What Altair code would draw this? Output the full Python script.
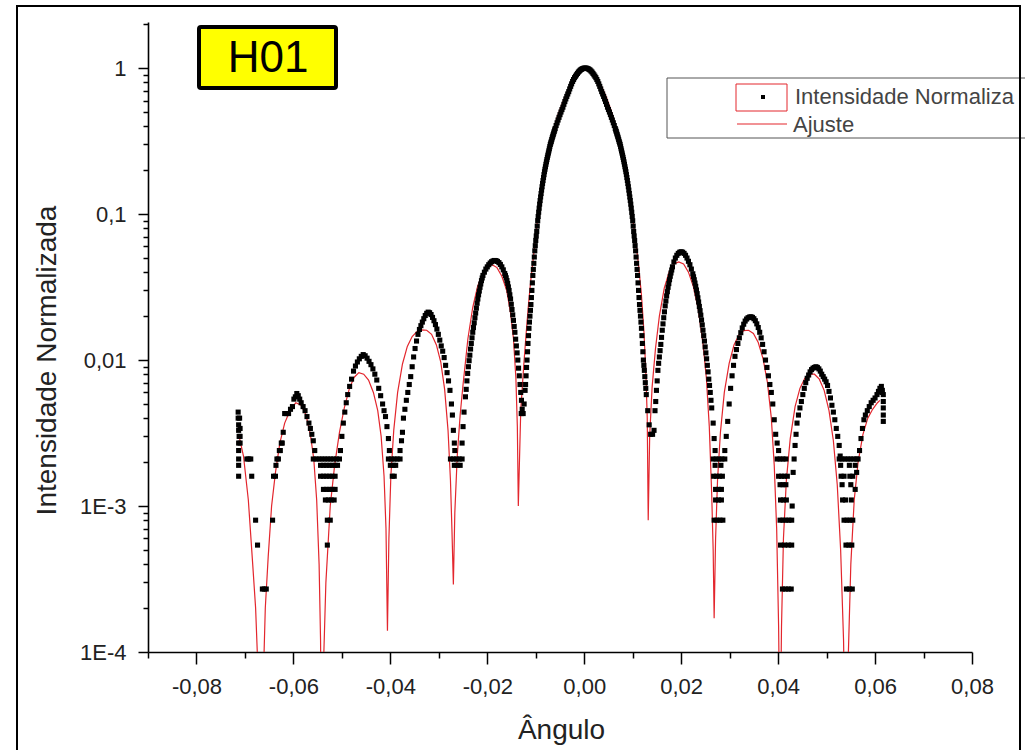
import altair as alt
import pandas as pd

# ---------------- data ----------------
# Ajuste (red fit line): (angle, normalized intensity)
ajuste_esq = [
    (-0.0712, 0.0030), (-0.0703, 0.0022), (-0.0693, 0.0011), (-0.0684, 0.0004), (-0.0678, 0.0002),
    (-0.0672, 0.00006), (-0.0668, 0.00001), (-0.0663, 0.00005), (-0.0658, 0.0002), (-0.0652, 0.00045),
    (-0.0645, 0.0010), (-0.0637, 0.0017), (-0.0628, 0.0027), (-0.0618, 0.0037), (-0.0606, 0.0046),
    (-0.0595, 0.0051), (-0.0584, 0.0049), (-0.0574, 0.0042), (-0.0565, 0.0031), (-0.0558, 0.0021),
    (-0.0552, 0.0011), (-0.0547, 0.0004), (-0.0544, 0.00012), (-0.0541, 0.00001),
    (-0.0538, 0.00008), (-0.0533, 0.0003), (-0.0524, 0.0010), (-0.0515, 0.0019), (-0.0505, 0.0032),
    (-0.0495, 0.0047), (-0.0485, 0.0063), (-0.0475, 0.0076), (-0.0465, 0.0082), (-0.0455, 0.0080),
    (-0.0445, 0.0073), (-0.0435, 0.0060), (-0.0426, 0.0045), (-0.0419, 0.0030), (-0.0413, 0.0016),
    (-0.0409, 0.0007), (-0.0406, 0.00014),
    (-0.0403, 0.0006), (-0.0399, 0.0016), (-0.0393, 0.0033), (-0.0385, 0.0060), (-0.0375, 0.0094),
    (-0.0365, 0.0124), (-0.0355, 0.0145), (-0.0345, 0.0157), (-0.0335, 0.0161), (-0.0325, 0.0160),
    (-0.0315, 0.0150), (-0.0305, 0.0127), (-0.0296, 0.0097), (-0.0288, 0.0063), (-0.0281, 0.0033),
    (-0.0276, 0.0015), (-0.0273, 0.0007), (-0.0270, 0.00029),
    (-0.0267, 0.0009), (-0.0262, 0.0022), (-0.0256, 0.0042), (-0.0250, 0.0068), (-0.0240, 0.0140),
    (-0.0230, 0.0230), (-0.0220, 0.0320), (-0.0210, 0.0390), (-0.0200, 0.0435), (-0.0190, 0.0450),
    (-0.0180, 0.0430), (-0.0170, 0.0375), (-0.0160, 0.0300), (-0.0152, 0.0210), (-0.0146, 0.0140),
    (-0.0141, 0.0075), (-0.0138, 0.0035), (-0.0136, 0.0010),
]
ajuste_centro = [
    (-0.0131, 0.0045), (-0.0125, 0.0090), (-0.0120, 0.0150), (-0.0115, 0.024), (-0.0110, 0.036),
    (-0.0105, 0.050), (-0.0100, 0.072), (-0.0095, 0.100), (-0.0085, 0.180), (-0.0075, 0.265),
    (-0.0065, 0.365), (-0.0055, 0.470), (-0.0045, 0.575), (-0.0035, 0.690), (-0.0025, 0.800),
    (-0.0015, 0.900), (-0.0005, 0.970), (0.0005, 0.990), (0.0015, 0.950), (0.0025, 0.870),
    (0.0035, 0.760), (0.0045, 0.640), (0.0055, 0.520), (0.0065, 0.400), (0.0075, 0.290),
    (0.0085, 0.195), (0.0095, 0.125), (0.0105, 0.070), (0.0112, 0.045), (0.0118, 0.028),
    (0.0123, 0.016), (0.0127, 0.0085), (0.0130, 0.0040), (0.0132, 0.0008),
]
ajuste_dir = [
    (0.0135, 0.0030), (0.0140, 0.0065), (0.0147, 0.0120), (0.0155, 0.0200), (0.0165, 0.0310),
    (0.0175, 0.0400), (0.0185, 0.0455), (0.0195, 0.0470), (0.0205, 0.0455), (0.0215, 0.0400),
    (0.0225, 0.0320), (0.0235, 0.0225), (0.0245, 0.0130), (0.0252, 0.0075), (0.0258, 0.0035),
    (0.0263, 0.0012), (0.0266, 0.0005), (0.0268, 0.00017),
    (0.0271, 0.0006), (0.0275, 0.0015), (0.0281, 0.0032), (0.0289, 0.0060), (0.0299, 0.0095),
    (0.0309, 0.0127), (0.0319, 0.0148), (0.0329, 0.0159), (0.0339, 0.0160), (0.0349, 0.0152),
    (0.0359, 0.0132), (0.0369, 0.0102), (0.0378, 0.0070), (0.0386, 0.0040), (0.0392, 0.0019),
    (0.0397, 0.0007), (0.0401, 0.00015), (0.0404, 0.00002),
    (0.0407, 0.00015), (0.0411, 0.0006), (0.0417, 0.0015), (0.0425, 0.0029), (0.0435, 0.0048),
    (0.0445, 0.0064), (0.0455, 0.0075), (0.0465, 0.0080), (0.0475, 0.0080), (0.0485, 0.0074),
    (0.0495, 0.0062), (0.0505, 0.0045), (0.0514, 0.0028), (0.0522, 0.0014), (0.0529, 0.0005),
    (0.0535, 0.00012), (0.0540, 0.00001),
    (0.0545, 0.0001), (0.0550, 0.0004), (0.0557, 0.0011), (0.0565, 0.0020), (0.0575, 0.0031),
    (0.0585, 0.0040), (0.0595, 0.0046), (0.0605, 0.0051), (0.0610, 0.0053),
]

# Intensidade Normalizada (black measured points)
exp_borda = [
    (-0.0714, 0.0044), (-0.0714, 0.0040), (-0.0713, 0.0036), (-0.0713, 0.0033), (-0.0712, 0.0030),
    (-0.0711, 0.0040), (-0.0710, 0.0034), (-0.0710, 0.0030), (-0.0713, 0.0027), (-0.0710, 0.0027),
    (-0.0713, 0.0024), (-0.0713, 0.0021), (-0.0713, 0.0019), (-0.0713, 0.0016), (-0.0696, 0.0021),
    (-0.0692, 0.0021), (-0.0688, 0.0021), (-0.0686, 0.0016), (-0.0678, 0.0008), (-0.0674, 0.00054),
    (-0.0664, 0.00027), (-0.0660, 0.00027), (-0.0656, 0.00027), (-0.0643, 0.0008), (-0.0641, 0.0016),
    (-0.0637, 0.0016), (-0.0636, 0.0019), (-0.0634, 0.0021), (-0.0631, 0.0021), (-0.0629, 0.0024),
    (-0.0627, 0.0024), (-0.0625, 0.0027), (-0.0623, 0.0027), (-0.0621, 0.0032), (-0.0618, 0.0043),
    (-0.0614, 0.0043), (-0.0610, 0.0043), (-0.0606, 0.0046), (-0.0602, 0.0048), (-0.0599, 0.0054),
    (-0.0596, 0.0056), (-0.0593, 0.0059), (-0.0590, 0.0057), (-0.0587, 0.0054), (-0.0584, 0.0051),
    (-0.0580, 0.0048), (-0.0576, 0.0045), (-0.0572, 0.0041), (-0.0568, 0.0037), (-0.0565, 0.0034),
    (-0.0562, 0.0031), (-0.0559, 0.0028), (-0.0556, 0.0024),
]
exp_vale_054 = [
    (-0.0559, 0.0021), (-0.0553, 0.0021), (-0.0547, 0.0021), (-0.0541, 0.0021), (-0.0535, 0.0021),
    (-0.0529, 0.0021), (-0.0523, 0.0021), (-0.0517, 0.0021), (-0.0511, 0.0021), (-0.0505, 0.0021),
    (-0.0544, 0.0019), (-0.0538, 0.0019), (-0.0532, 0.0019), (-0.0526, 0.0019), (-0.0520, 0.0019),
    (-0.0514, 0.0019), (-0.0509, 0.0019),
    (-0.0544, 0.0016), (-0.0538, 0.0016), (-0.0532, 0.0016), (-0.0526, 0.0016), (-0.0520, 0.0016),
    (-0.0514, 0.0016),
    (-0.0538, 0.0013), (-0.0532, 0.0013), (-0.0526, 0.0013), (-0.0520, 0.0013), (-0.0514, 0.0013),
    (-0.0534, 0.0011), (-0.0528, 0.0011), (-0.0522, 0.0011), (-0.0516, 0.0011),
    (-0.0530, 0.0008), (-0.0524, 0.0008), (-0.0530, 0.00054),
]
exp_lobo_047 = [
    (-0.0503, 0.0024), (-0.0500, 0.0030), (-0.0497, 0.0037), (-0.0494, 0.0044), (-0.0491, 0.0051),
    (-0.0488, 0.0058), (-0.0484, 0.0066), (-0.0480, 0.0074), (-0.0476, 0.0084), (-0.0472, 0.0091),
    (-0.0468, 0.0097), (-0.0464, 0.0102), (-0.0460, 0.0106), (-0.0456, 0.0109), (-0.0452, 0.0107),
    (-0.0448, 0.0103), (-0.0444, 0.0098), (-0.0440, 0.0093), (-0.0436, 0.0087), (-0.0432, 0.0080),
    (-0.0428, 0.0073), (-0.0424, 0.0064), (-0.0420, 0.0057), (-0.0416, 0.0050), (-0.0413, 0.0045),
    (-0.0410, 0.0041), (-0.0407, 0.0035), (-0.0404, 0.0029), (-0.0402, 0.0024),
    (-0.0404, 0.0021), (-0.0398, 0.0021), (-0.0392, 0.0021), (-0.0386, 0.0021), (-0.0380, 0.0021),
    (-0.0400, 0.0019), (-0.0394, 0.0019), (-0.0389, 0.0019), (-0.0396, 0.0016), (-0.0392, 0.0016),
]
exp_lobo_033 = [
    (-0.0380, 0.0024), (-0.0377, 0.0028), (-0.0375, 0.0032), (-0.0373, 0.0040), (-0.0370, 0.0046),
    (-0.0367, 0.0053), (-0.0364, 0.0060), (-0.0361, 0.0068), (-0.0358, 0.0077), (-0.0355, 0.0090),
    (-0.0352, 0.0105), (-0.0349, 0.0120), (-0.0346, 0.0135), (-0.0343, 0.0150), (-0.0340, 0.0162),
    (-0.0337, 0.0172), (-0.0334, 0.0182), (-0.0331, 0.0192), (-0.0328, 0.0202), (-0.0325, 0.0209),
    (-0.0322, 0.0213), (-0.0319, 0.0211), (-0.0316, 0.0205), (-0.0313, 0.0196), (-0.0310, 0.0186),
    (-0.0307, 0.0175), (-0.0304, 0.0163), (-0.0301, 0.0150), (-0.0298, 0.0137), (-0.0295, 0.0125),
    (-0.0292, 0.0115), (-0.0289, 0.0104), (-0.0286, 0.0092), (-0.0283, 0.0082), (-0.0280, 0.0072),
    (-0.0277, 0.0062), (-0.0274, 0.0050), (-0.0272, 0.0042), (-0.0270, 0.0033), (-0.0268, 0.0027),
    (-0.0267, 0.0024),
    (-0.0276, 0.0021), (-0.0270, 0.0021), (-0.0264, 0.0021), (-0.0258, 0.0021), (-0.0252, 0.0021),
    (-0.0268, 0.0019), (-0.0262, 0.0019), (-0.0256, 0.0019),
]
exp_lobo_019 = [
    (-0.0252, 0.0027), (-0.0250, 0.0035), (-0.0248, 0.0044), (-0.0245, 0.0056), (-0.0242, 0.0072),
    (-0.0239, 0.0090), (-0.0236, 0.0108), (-0.0233, 0.0130), (-0.0230, 0.0155), (-0.0227, 0.0180),
    (-0.0224, 0.0210), (-0.0221, 0.0245), (-0.0218, 0.0280), (-0.0215, 0.0315), (-0.0212, 0.0350),
    (-0.0209, 0.0380), (-0.0206, 0.0400), (-0.0203, 0.0420), (-0.0200, 0.0435), (-0.0197, 0.0450),
    (-0.0194, 0.0462), (-0.0191, 0.0472), (-0.0188, 0.0478), (-0.0185, 0.0481), (-0.0182, 0.0480),
    (-0.0179, 0.0474), (-0.0176, 0.0465), (-0.0173, 0.0452), (-0.0170, 0.0435), (-0.0167, 0.0415),
    (-0.0164, 0.0392), (-0.0161, 0.0366), (-0.0158, 0.0335), (-0.0155, 0.0300), (-0.0152, 0.0262),
    (-0.0149, 0.0222), (-0.0146, 0.0187), (-0.0143, 0.0155), (-0.0140, 0.0125), (-0.0137, 0.0100),
    (-0.0134, 0.0078), (-0.0131, 0.0060), (-0.0128, 0.0046), (-0.0130, 0.0043), (-0.0126, 0.0043),
]
exp_central = [
    (-0.0124, 0.0050), (-0.0121, 0.0068), (-0.0118, 0.0100), (-0.0116, 0.0130), (-0.0114, 0.0165),
    (-0.0112, 0.0200), (-0.0110, 0.0240), (-0.0108, 0.0300), (-0.0106, 0.0380), (-0.0104, 0.0460),
    (-0.0102, 0.0560), (-0.0100, 0.0660), (-0.0098, 0.0760), (-0.0096, 0.0900), (-0.0094, 0.1030),
    (-0.0092, 0.1170), (-0.0090, 0.1310), (-0.0088, 0.1460), (-0.0086, 0.1620), (-0.0084, 0.1780),
    (-0.0082, 0.1950), (-0.0080, 0.2110), (-0.0078, 0.2280), (-0.0076, 0.2450), (-0.0074, 0.2620),
    (-0.0072, 0.2800), (-0.0070, 0.3000), (-0.0068, 0.3150), (-0.0066, 0.3330), (-0.0064, 0.3500),
    (-0.0062, 0.3680), (-0.0060, 0.3860), (-0.0058, 0.4040), (-0.0056, 0.4220), (-0.0054, 0.4410),
    (-0.0052, 0.4600), (-0.0050, 0.4800), (-0.0048, 0.5000), (-0.0046, 0.5200), (-0.0044, 0.5400),
    (-0.0042, 0.5650), (-0.0040, 0.5900), (-0.0038, 0.6150), (-0.0036, 0.6400), (-0.0034, 0.6650),
    (-0.0032, 0.6900), (-0.0030, 0.7200), (-0.0028, 0.7500), (-0.0026, 0.7800), (-0.0024, 0.8100),
    (-0.0022, 0.8350), (-0.0020, 0.8600), (-0.0018, 0.8800), (-0.0016, 0.9000), (-0.0014, 0.9200),
    (-0.0012, 0.9400), (-0.0010, 0.9550), (-0.0008, 0.9700), (-0.0006, 0.9800), (-0.0004, 0.9900),
    (-0.0002, 0.9950), (0.0000, 1.0000), (0.0002, 1.0000), (0.0004, 1.0000), (0.0006, 0.9950),
    (0.0008, 0.9900), (0.0010, 0.9800), (0.0012, 0.9700), (0.0014, 0.9550), (0.0016, 0.9400),
    (0.0018, 0.9200), (0.0020, 0.9000), (0.0022, 0.8800), (0.0024, 0.8600), (0.0026, 0.8350),
    (0.0028, 0.8100), (0.0030, 0.7800), (0.0032, 0.7500), (0.0034, 0.7200), (0.0036, 0.6900),
    (0.0038, 0.6650), (0.0040, 0.6400), (0.0042, 0.6150), (0.0044, 0.5900), (0.0046, 0.5650),
    (0.0048, 0.5400), (0.0050, 0.5200), (0.0052, 0.5000), (0.0054, 0.4800), (0.0056, 0.4600),
    (0.0058, 0.4410), (0.0060, 0.4220), (0.0062, 0.4040), (0.0064, 0.3860), (0.0066, 0.3680),
    (0.0068, 0.3500), (0.0070, 0.3330), (0.0072, 0.3150), (0.0074, 0.3000), (0.0076, 0.2800),
    (0.0078, 0.2620), (0.0080, 0.2450), (0.0082, 0.2280), (0.0084, 0.2110), (0.0086, 0.1950),
    (0.0088, 0.1780), (0.0090, 0.1620), (0.0092, 0.1460), (0.0094, 0.1310), (0.0096, 0.1170),
    (0.0098, 0.1030), (0.0100, 0.0900), (0.0102, 0.0760), (0.0104, 0.0660), (0.0106, 0.0560),
    (0.0108, 0.0460), (0.0110, 0.0380), (0.0112, 0.0300), (0.0114, 0.0240), (0.0116, 0.0200),
    (0.0118, 0.0165), (0.0120, 0.0130), (0.0122, 0.0100), (0.0124, 0.0085), (0.0126, 0.0070),
    (0.0128, 0.0058), (0.0131, 0.0045), (0.0134, 0.0036), (0.0137, 0.0031), (0.0141, 0.0031),
    (0.0144, 0.0033),
]
# extra readings along the steep, densely sampled flanks
exp_flancos_centro = [
    (-0.0122, 0.0062), (-0.0120, 0.0078), (-0.0119, 0.0089), (-0.0117, 0.0114), (-0.0115, 0.0147),
    (-0.0113, 0.0182), (-0.0111, 0.0219), (-0.0109, 0.0268), (-0.0107, 0.0338), (-0.0105, 0.0418),
    (-0.0103, 0.0508), (-0.0101, 0.0608), (-0.0099, 0.0708), (-0.0097, 0.0827), (-0.0095, 0.0963),
    (-0.0093, 0.1098), (-0.0091, 0.1238), (-0.0089, 0.1383), (-0.0087, 0.1539), (-0.0085, 0.1698),
    (-0.0083, 0.1863), (-0.0081, 0.2029), (-0.0079, 0.2194), (-0.0077, 0.2363), (-0.0075, 0.2534),
    (-0.0073, 0.2709), (-0.0071, 0.2898), (-0.0069, 0.3074), (-0.0067, 0.3239), (-0.0065, 0.3414),
    (-0.0063, 0.3589), (-0.0061, 0.3769),
    (0.0065, 0.3769), (0.0067, 0.3589), (0.0069, 0.3414), (0.0071, 0.3239), (0.0073, 0.3074),
    (0.0075, 0.2898), (0.0077, 0.2709), (0.0079, 0.2534), (0.0081, 0.2363), (0.0083, 0.2194),
    (0.0085, 0.2029), (0.0087, 0.1863), (0.0089, 0.1698), (0.0091, 0.1539), (0.0093, 0.1383),
    (0.0095, 0.1238), (0.0097, 0.1098), (0.0099, 0.0963), (0.0101, 0.0827), (0.0103, 0.0708),
    (0.0105, 0.0608), (0.0107, 0.0508), (0.0109, 0.0418), (0.0111, 0.0338), (0.0113, 0.0268),
    (0.0115, 0.0219), (0.0117, 0.0182), (0.0119, 0.0147), (0.0121, 0.0114), (0.0123, 0.0092),
    (0.0125, 0.0077), (0.0127, 0.0064),
]
exp_flancos_lobos = [
    (-0.02435, 0.0063), (-0.02405, 0.0081), (-0.02375, 0.0099), (-0.02345, 0.0119), (-0.02315, 0.0142),
    (-0.02285, 0.0167), (-0.02255, 0.0195), (-0.02225, 0.0227), (-0.02195, 0.0262), (-0.02165, 0.0297),
    (-0.02135, 0.0332), (-0.02105, 0.0365),
    (-0.01625, 0.0379), (-0.01595, 0.0350), (-0.01565, 0.0317), (-0.01535, 0.0280), (-0.01505, 0.0241),
    (-0.01475, 0.0204), (-0.01445, 0.0170), (-0.01415, 0.0139), (-0.01385, 0.0112), (-0.01355, 0.0088),
    (-0.01325, 0.0068), (-0.01295, 0.0053),
    (0.01475, 0.0052), (0.01505, 0.0072), (0.01535, 0.0095), (0.01565, 0.0116), (0.01595, 0.0143),
    (0.01625, 0.0177), (0.01655, 0.0214), (0.01685, 0.0254), (0.01715, 0.0294), (0.01745, 0.0334),
    (0.01775, 0.0375), (0.01805, 0.0414),
    (0.02255, 0.0372), (0.02285, 0.0337), (0.02315, 0.0302), (0.02345, 0.0267), (0.02375, 0.0233),
    (0.02405, 0.0203), (0.02435, 0.0174), (0.02465, 0.0147), (0.02495, 0.0123), (0.02525, 0.0102),
    (0.02555, 0.0083), (0.02585, 0.0067), (0.02615, 0.0053),
]
exp_lobo_020 = [
    (0.0146, 0.0045), (0.0149, 0.0062), (0.0152, 0.0085), (0.0155, 0.0105), (0.0158, 0.0128),
    (0.0161, 0.0160), (0.0164, 0.0195), (0.0167, 0.0235), (0.0170, 0.0275), (0.0173, 0.0315),
    (0.0176, 0.0355), (0.0179, 0.0395), (0.0182, 0.0435), (0.0185, 0.0470), (0.0188, 0.0500),
    (0.0191, 0.0522), (0.0194, 0.0538), (0.0197, 0.0548), (0.0200, 0.0552), (0.0203, 0.0548),
    (0.0206, 0.0538), (0.0209, 0.0522), (0.0212, 0.0500), (0.0215, 0.0475), (0.0218, 0.0450),
    (0.0221, 0.0420), (0.0224, 0.0390), (0.0227, 0.0355), (0.0230, 0.0320), (0.0233, 0.0285),
    (0.0236, 0.0250), (0.0239, 0.0218), (0.0242, 0.0188), (0.0245, 0.0160), (0.0248, 0.0135),
    (0.0251, 0.0112), (0.0254, 0.0092), (0.0257, 0.0074), (0.0260, 0.0060), (0.0263, 0.0047),
    (0.0266, 0.0037), (0.0268, 0.0029), (0.0270, 0.0024),
    (0.0266, 0.0021), (0.0272, 0.0021), (0.0278, 0.0021), (0.0284, 0.0021), (0.0290, 0.0021),
    (0.0270, 0.0019), (0.0282, 0.0019), (0.0267, 0.0016), (0.0273, 0.0016), (0.0279, 0.0016),
    (0.0285, 0.0016), (0.0271, 0.0013), (0.0277, 0.0013), (0.0283, 0.0013), (0.0271, 0.0011),
    (0.0277, 0.0011), (0.0283, 0.0011), (0.0268, 0.0008), (0.0274, 0.0008), (0.0280, 0.0008),
    (0.0286, 0.0008),
]
exp_lobo_034 = [
    (0.0290, 0.0024), (0.0293, 0.0030), (0.0296, 0.0038), (0.0299, 0.0050), (0.0302, 0.0064),
    (0.0305, 0.0078), (0.0308, 0.0092), (0.0311, 0.0106), (0.0314, 0.0118), (0.0317, 0.0130),
    (0.0320, 0.0142), (0.0323, 0.0154), (0.0326, 0.0166), (0.0329, 0.0176), (0.0332, 0.0185),
    (0.0335, 0.0191), (0.0338, 0.0195), (0.0341, 0.0197), (0.0344, 0.0198), (0.0347, 0.0196),
    (0.0350, 0.0192), (0.0353, 0.0186), (0.0356, 0.0177), (0.0359, 0.0167), (0.0362, 0.0155),
    (0.0365, 0.0142), (0.0368, 0.0128), (0.0371, 0.0114), (0.0374, 0.0100), (0.0377, 0.0089),
    (0.0380, 0.0078), (0.0383, 0.0068), (0.0386, 0.0060), (0.0389, 0.0050), (0.0392, 0.0039),
    (0.0395, 0.0031), (0.0398, 0.0027), (0.0401, 0.0024),
    (0.0398, 0.0021), (0.0404, 0.0021), (0.0410, 0.0021), (0.0416, 0.0021), (0.0401, 0.0016),
    (0.0407, 0.0016), (0.0413, 0.0016), (0.0419, 0.0016), (0.0404, 0.0014), (0.0410, 0.0014),
    (0.0416, 0.0014), (0.0405, 0.0011), (0.0411, 0.0011), (0.0417, 0.0011), (0.0404, 0.0008),
    (0.0410, 0.0008), (0.0416, 0.0008), (0.0422, 0.0008), (0.0428, 0.0008), (0.0405, 0.00054),
    (0.0413, 0.00054), (0.0421, 0.00054), (0.0428, 0.00054), (0.0409, 0.00027), (0.0415, 0.00027),
    (0.0421, 0.00027), (0.0427, 0.00027),
]
exp_lobo_048 = [
    (0.0429, 0.0010), (0.0431, 0.0017), (0.0433, 0.0021), (0.0435, 0.0026), (0.0437, 0.0031),
    (0.0439, 0.0037), (0.0442, 0.0042), (0.0445, 0.0047), (0.0448, 0.0052), (0.0451, 0.0058),
    (0.0454, 0.0064), (0.0457, 0.0070), (0.0460, 0.0075), (0.0463, 0.0079), (0.0466, 0.0083),
    (0.0469, 0.0086), (0.0472, 0.0088), (0.0475, 0.0089), (0.0478, 0.0090), (0.0481, 0.0089),
    (0.0484, 0.0087), (0.0487, 0.0084), (0.0490, 0.0080), (0.0493, 0.0077), (0.0496, 0.0074),
    (0.0499, 0.0071), (0.0502, 0.0067), (0.0505, 0.0061), (0.0508, 0.0055), (0.0511, 0.0049),
    (0.0514, 0.0044), (0.0517, 0.0039), (0.0520, 0.0034), (0.0523, 0.0030), (0.0526, 0.0026),
    (0.0528, 0.0022),
    (0.0526, 0.0021), (0.0532, 0.0021), (0.0538, 0.0021), (0.0544, 0.0021), (0.0550, 0.0021),
    (0.0556, 0.0021), (0.0562, 0.0021), (0.0529, 0.0019), (0.0547, 0.0019), (0.0559, 0.0019),
    (0.0530, 0.0016), (0.0536, 0.0016), (0.0548, 0.0016), (0.0554, 0.0016), (0.0532, 0.0014),
    (0.0550, 0.0014), (0.0533, 0.0011), (0.0539, 0.0011), (0.0551, 0.0011), (0.0536, 0.0008),
    (0.0542, 0.0008), (0.0548, 0.0008), (0.0554, 0.0008), (0.0540, 0.00054), (0.0546, 0.00054),
    (0.0552, 0.00054), (0.0541, 0.00027), (0.0547, 0.00027), (0.0553, 0.00027),
]
exp_borda_dir = [
    (0.0559, 0.0013), (0.0562, 0.0017), (0.0565, 0.0021), (0.0568, 0.0024), (0.0571, 0.0029),
    (0.0574, 0.0034), (0.0577, 0.0039), (0.0580, 0.0042), (0.0584, 0.0045), (0.0588, 0.0048),
    (0.0592, 0.0051), (0.0596, 0.0053), (0.0600, 0.0055), (0.0604, 0.0058), (0.0607, 0.0061),
    (0.0610, 0.0064), (0.0613, 0.0066), (0.0615, 0.0062), (0.0614, 0.0060), (0.0617, 0.0058),
    (0.0617, 0.0052), (0.0617, 0.0047), (0.0617, 0.0042), (0.0617, 0.0038),
]

# axis ticks / labels
x_ticks_maiores = [-0.08, -0.06, -0.04, -0.02, 0.0, 0.02, 0.04, 0.06, 0.08]
x_rotulos = ["-0,08", "-0,06", "-0,04", "-0,02", "0,00", "0,02", "0,04", "0,06", "0,08"]
x_ticks_menores = [-0.09, -0.07, -0.05, -0.03, -0.01, 0.01, 0.03, 0.05, 0.07]
y_ticks_maiores = [0.0001, 0.001, 0.01, 0.1, 1.0]
y_rotulos = ["1E-4", "1E-3", "0,01", "0,1", "1"]
y_ticks_menores = [m * 10.0 ** e for e in range(-4, 1) for m in range(2, 10)] + [2.0]

legenda_rotulos = ["Intensidade Normaliza", "Ajuste"]
titulo_caixa = "H01"

# ---------------- chart ----------------
FONT = "Liberation Sans"
RED = "#e3262d"

ajuste = pd.DataFrame(ajuste_esq + ajuste_centro + ajuste_dir, columns=["ang", "inten"])
medido = pd.DataFrame(
    exp_borda + exp_vale_054 + exp_lobo_047 + exp_lobo_033 + exp_lobo_019 + exp_central
    + exp_flancos_centro + exp_flancos_lobos
    + exp_lobo_020 + exp_lobo_034 + exp_lobo_048 + exp_borda_dir,
    columns=["ang", "inten"],
)

x_label_expr = " : ".join(
    f"abs(datum.value - ({v})) < 1e-6 ? '{lab}'" for v, lab in zip(x_ticks_maiores, x_rotulos)
) + " : ''"
x_major_test = " || ".join(f"abs(datum.value - ({v})) < 1e-6" for v in x_ticks_maiores)
y_label_expr = " : ".join(
    f"abs(datum.value - {v}) < {v * 1e-3} ? '{lab}'" for v, lab in zip(y_ticks_maiores, y_rotulos)
) + " : ''"
y_major_test = " || ".join(f"abs(datum.value - {v}) < {v * 1e-3}" for v in y_ticks_maiores)

axis_common = dict(
    grid=False, domainColor="black", domainWidth=1.6, tickColor="black", tickWidth=1.5,
    labelFont=FONT, labelFontSize=22, labelColor="#222222", labelOverlap=False, labelFlush=False,
    titleFont=FONT, titleFontWeight="normal", titleColor="#222222",
)

x_enc = alt.X(
    "ang:Q",
    scale=alt.Scale(domain=[-0.09, 0.08], nice=False, zero=False),
    axis=alt.Axis(
        values=sorted(x_ticks_maiores + x_ticks_menores), labelExpr=x_label_expr,
        tickSize={"condition": {"test": x_major_test, "value": 12}, "value": 6},
        labelPadding=12, title="Ângulo", titleFontSize=28,
        titleX=413, titleY=78, titleBaseline="middle", titleAlign="center", **axis_common,
    ),
)
y_enc = alt.Y(
    "inten:Q",
    scale=alt.Scale(type="log", domain=[0.0001, 2.07], nice=False),
    axis=alt.Axis(
        values=sorted(y_ticks_maiores + y_ticks_menores), labelExpr=y_label_expr,
        tickSize={"condition": {"test": y_major_test, "value": 10}, "value": 5},
        labelPadding=12, title="Intensidade Normalizada", titleFontSize=28,
        titleX=-101, titleY=338, titleBaseline="middle", titleAlign="center", titleAngle=270,
        **axis_common,
    ),
)

linha = alt.Chart(ajuste).mark_line(color=RED, strokeWidth=1.2, clip=True).encode(x=x_enc, y=y_enc)
pontos = alt.Chart(medido).mark_square(size=26, color="black", opacity=1, clip=True).encode(
    x="ang:Q", y="inten:Q"
)

um = pd.DataFrame({"k": [0]})

# outer frame
moldura = alt.Chart(um).mark_rect(fill="transparent", stroke="black", strokeWidth=2).encode(
    x=alt.value(-131), x2=alt.value(872), y=alt.value(-16), y2=alt.value(745)
)
# H01 label box
caixa = alt.Chart(um).mark_rect(fill="#ffff00", stroke="black", strokeWidth=4, cornerRadius=2).encode(
    x=alt.value(51), x2=alt.value(188), y=alt.value(5), y2=alt.value(66)
)
caixa_txt = alt.Chart(um).mark_text(
    text=titulo_caixa, font=FONT, fontSize=44, align="center", baseline="middle", color="black"
).encode(x=alt.value(120), y=alt.value(37))

# legend
leg_box = alt.Chart(um).mark_rect(fill="white", stroke="#555555", strokeWidth=1).encode(
    x=alt.value(519), x2=alt.value(880), y=alt.value(56), y2=alt.value(116)
)
leg_sq = alt.Chart(um).mark_rect(fill="transparent", stroke=RED, strokeWidth=1).encode(
    x=alt.value(588), x2=alt.value(639), y=alt.value(62), y2=alt.value(89)
)
leg_dot = alt.Chart(um).mark_square(size=16, color="black", opacity=1).encode(
    x=alt.value(615), y=alt.value(75)
)
leg_line = alt.Chart(um).mark_rule(color=RED, strokeWidth=1.2).encode(
    x=alt.value(589), x2=alt.value(639), y=alt.value(102)
)
leg_t1 = alt.Chart(um).mark_text(
    text=legenda_rotulos[0], font=FONT, fontSize=22, align="left", baseline="middle", color="#444444"
).encode(x=alt.value(647), y=alt.value(75))
leg_t2 = alt.Chart(um).mark_text(
    text=legenda_rotulos[1], font=FONT, fontSize=22, align="left", baseline="middle", color="#444444"
).encode(x=alt.value(645), y=alt.value(103))

chart = alt.layer(
    linha, pontos, caixa, caixa_txt, leg_box, leg_sq, leg_dot, leg_line, leg_t1, leg_t2, moldura
).properties(
    width=824, height=630,
    padding={"left": 148, "top": 22, "right": 53, "bottom": 98},
    autosize=alt.AutoSizeParams(type="none"),
    background="white",
).configure_view(stroke=None)

chart.save("out.html", embed_options={"renderer": "svg", "actions": False})
